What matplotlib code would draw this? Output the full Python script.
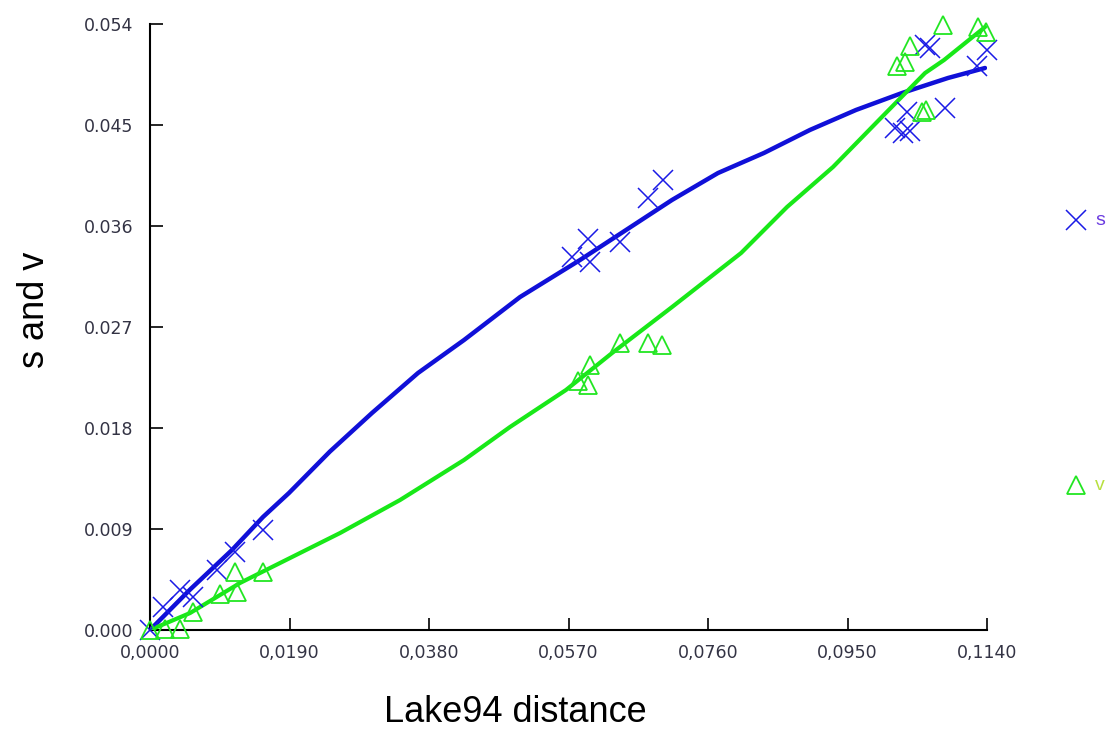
import matplotlib.pyplot as plt
import numpy as np
from matplotlib.ticker import FuncFormatter

plt.rcParams['font.family'] = ['Liberation Sans', 'DejaVu Sans']

# observed points: s
s_x = [0.0, 0.00177, 0.00409, 0.00586, 0.00913, 0.01158, 0.01539,
       0.0575, 0.0597, 0.0599, 0.0640, 0.0678, 0.0699,
       0.1015, 0.1026, 0.1035, 0.1031, 0.1083,
       0.1056, 0.1062, 0.1140, 0.1126]
s_y = [0.0, 0.00205, 0.00356, 0.00294, 0.00535, 0.00695, 0.00891,
       0.0332, 0.0348, 0.0328, 0.0346, 0.0385, 0.0401,
       0.0447, 0.0443, 0.0445, 0.0462, 0.0465,
       0.0521, 0.0519, 0.0517, 0.0503]

# observed points: v
v_x = [0.0, 0.0020, 0.0041, 0.00586, 0.00953, 0.01158, 0.01185, 0.01539,
       0.0583, 0.0597, 0.0599, 0.0640, 0.0678, 0.0697,
       0.1080, 0.1035, 0.1028, 0.1017, 0.1128, 0.1139, 0.1051, 0.1057]
v_y = [0.0, 0.0001, 0.0001, 0.0016, 0.0032, 0.0052, 0.0034, 0.0052,
       0.0222, 0.0218, 0.0236, 0.0256, 0.0256, 0.0254,
       0.0539, 0.0520, 0.0506, 0.0503, 0.0537, 0.0533, 0.0462, 0.0463]

# smoothed curves
s_fit_x = [0.0, 0.00545, 0.01117, 0.01539, 0.01893, 0.02450, 0.03024, 0.03650,
           0.04277, 0.05040, 0.05857, 0.06483, 0.07110, 0.07736, 0.08363,
           0.08989, 0.09616, 0.10242, 0.10869, 0.11373]
s_fit_y = [0.0, 0.00360, 0.00713, 0.01007, 0.01221, 0.01590, 0.01934, 0.02290,
           0.02584, 0.02967, 0.03297, 0.03564, 0.03832, 0.04072, 0.04251,
           0.04456, 0.04634, 0.04785, 0.04919, 0.05008]

v_fit_x = [0.0, 0.00545, 0.01226, 0.02588, 0.03405, 0.04277, 0.04903, 0.05666,
           0.06293, 0.07110, 0.08050, 0.08676, 0.09303, 0.09929, 0.10556,
           0.10815, 0.11373]
v_fit_y = [0.0, 0.00151, 0.00419, 0.00864, 0.01158, 0.01515, 0.01809, 0.02139,
           0.02468, 0.02878, 0.03359, 0.03769, 0.04126, 0.04545, 0.04963,
           0.05079, 0.05373]

x_ticks = [0.0, 0.019, 0.038, 0.057, 0.076, 0.095, 0.114]
y_ticks = [0.0, 0.009, 0.018, 0.027, 0.036, 0.045, 0.054]

blue = '#1a1ae6'
green = '#22e622'

fig = plt.figure(figsize=(11.10, 7.31), dpi=100)
ax = fig.add_axes([150 / 1110, 101 / 731, 837 / 1110, 606 / 731])

ax.plot(s_fit_x, s_fit_y, color='#1010d8', lw=3.2, solid_capstyle='round',
        solid_joinstyle='round', zorder=3)
ax.plot(v_fit_x, v_fit_y, color='#18e818', lw=3.0, solid_capstyle='round',
        solid_joinstyle='round', zorder=3)
ax.plot(s_x, s_y, 'x', color=blue, ms=14, mew=1.1, clip_on=False, zorder=4)
ax.plot(v_x, v_y, '^', mfc='none', mec=green, ms=13, mew=1.3, clip_on=False, zorder=4)

ax.set_xlim(0, 0.114)
ax.set_ylim(0, 0.054)
ax.set_xticks(x_ticks)
ax.set_yticks(y_ticks)
ax.xaxis.set_major_formatter(FuncFormatter(lambda v, p: f'{v:.4f}'.replace('.', ',')))
ax.yaxis.set_major_formatter(FuncFormatter(lambda v, p: f'{v:.3f}'))
ax.tick_params(direction='in', length=9, width=1.2, labelsize=12.5,
               labelcolor='#333344', color='black')
for lab in ax.get_xticklabels() + ax.get_yticklabels():
    lab.set_family('DejaVu Sans')
ax.tick_params(axis='y', pad=12)
ax.tick_params(axis='x', pad=10)
for side in ['top', 'right']:
    ax.spines[side].set_visible(False)
for side in ['left', 'bottom']:
    ax.spines[side].set_linewidth(1.5)

ax.set_xlabel('Lake94 distance', fontsize=26)
ax.set_ylabel('s and v', fontsize=26)
ax.xaxis.set_label_coords(0.437, -0.108)
ax.yaxis.set_label_coords(-0.117, 0.528)

# legend entries at right margin
ax.plot([1076 / 1110], [1 - 220 / 731], 'x', color=blue, ms=14, mew=1.1,
        transform=fig.transFigure, clip_on=False)
fig.text(1095 / 1110, 1 - 220 / 731, 's', color='#6a3ae0', fontsize=14, va='center')
ax.plot([1076 / 1110], [1 - 485 / 731], '^', mfc='none', mec=green, ms=13, mew=1.3,
        transform=fig.transFigure, clip_on=False)
fig.text(1095 / 1110, 1 - 485 / 731, 'v', color='#b8e040', fontsize=14, va='center')

fig.savefig('out.png', dpi=100)
